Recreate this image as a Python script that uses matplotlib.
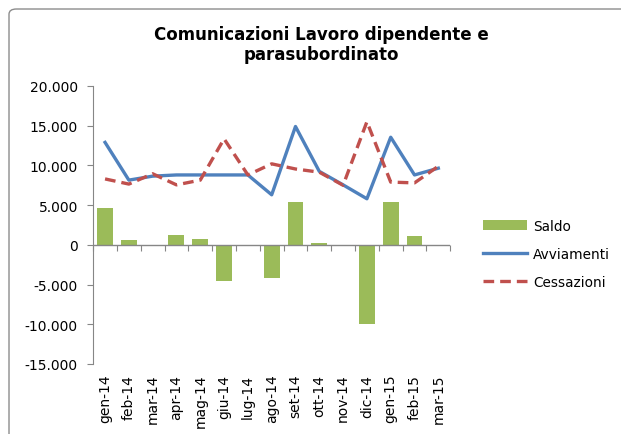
import numpy as np
import matplotlib
matplotlib.use('Agg')
import matplotlib.pyplot as plt
import matplotlib.ticker as mticker
from matplotlib.patches import FancyBboxPatch

months = ['gen-14', 'feb-14', 'mar-14', 'apr-14', 'mag-14', 'giu-14', 'lug-14',
          'ago-14', 'set-14', 'ott-14', 'nov-14', 'dic-14', 'gen-15', 'feb-15', 'mar-15']

saldo = [4600, 550, -150, 1250, 750, -4600, -50, -4150, 5450, 200, -50, -10000, 5450, 1100, -200]
avviamenti = [12900, 8150, 8650, 8800, 8800, 8800, 8800, 6300, 14900, 9250, 7550, 5800, 13550, 8800, 9650]
cessazioni = [8300, 7650, 8950, 7550, 8150, 13350, 8800, 10200, 9550, 9150, 7500, 15500, 7900, 7800, 9900]

green = '#9BBB59'
blue = '#4F81BD'
red = '#C0504D'

fig = plt.figure(figsize=(6.21, 4.35), dpi=100)
ax = fig.add_axes([0.150, 0.161, 0.575, 0.639])

x = np.arange(len(months))
b = ax.bar(x, saldo, width=0.67, color=green, label='Saldo', zorder=2)
l1, = ax.plot(x, avviamenti, color=blue, lw=2.4, label='Avviamenti', zorder=3)
l2, = ax.plot(x, cessazioni, color=red, lw=2.4, dashes=(3.2, 1.8), label='Cessazioni', zorder=3)

ax.set_xlim(-0.5, len(months) - 0.5)
ax.set_ylim(-15000, 20000)
ax.set_yticks(np.arange(-15000, 20001, 5000))
ax.yaxis.set_major_formatter(mticker.FuncFormatter(
    lambda v, p: '{:,.0f}'.format(v).replace(',', '.')))
ax.tick_params(axis='y', labelsize=10, length=4, color='#868686', pad=7)

ax.set_xticks(x)
ax.set_xticklabels(months, rotation=90, fontsize=10)
ax.tick_params(axis='x', length=0, pad=7)

for s in ['top', 'right', 'bottom']:
    ax.spines[s].set_visible(False)
ax.spines['left'].set_color('#868686')

# zero line with category separators
ax.axhline(0, color='#868686', lw=1, zorder=4)
sec = ax.secondary_xaxis(15000 / 35000)
sec.spines['bottom'].set_visible(False)
sec.set_xticks(np.arange(-0.5, len(months), 1))
sec.tick_params(axis='x', length=4, color='#868686', labelbottom=False)

fig.text(0.517, 0.897, 'Comunicazioni Lavoro dipendente e\nparasubordinato',
         ha='center', va='center', fontsize=12, fontweight='bold', linespacing=1.15)

ax.legend([b, l1, l2], ['Saldo', 'Avviamenti', 'Cessazioni'],
          loc='center left', bbox_to_anchor=(0.758, 0.414), bbox_transform=fig.transFigure,
          frameon=False, fontsize=9.8, handlelength=3.2, labelspacing=1.05, handletextpad=0.5)

# chart area border (only top and left edges visible in the crop)
border = FancyBboxPatch((0.0145, -0.2), 1.2, 1.177, boxstyle='round,pad=0,rounding_size=0.012',
                        transform=fig.transFigure, fill=False, edgecolor='#8C8C8C', lw=1.0)
fig.patches.append(border)

fig.savefig('out.png', dpi=100)
